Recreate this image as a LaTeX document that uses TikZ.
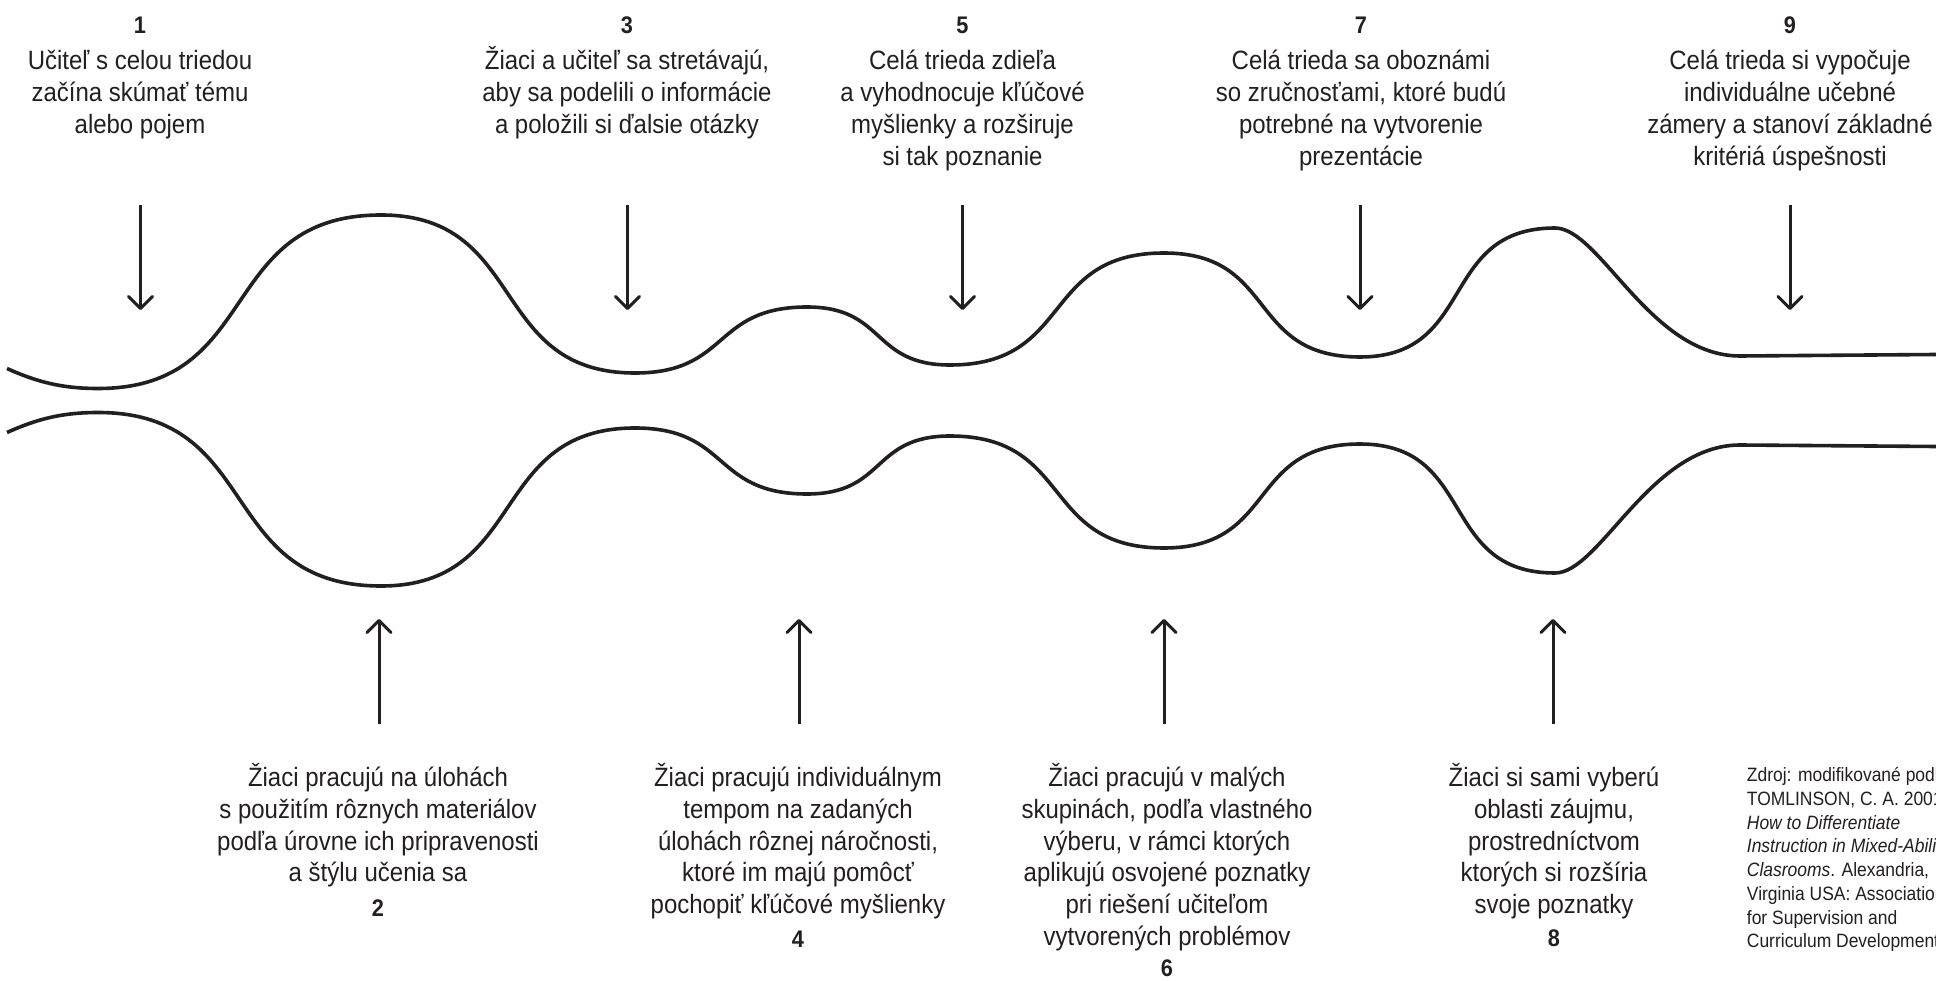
\documentclass[tikz,border=0pt]{standalone}
\usepackage{fontspec}
\setmainfont{Liberation Sans}[FakeStretch=0.905]
\usetikzlibrary{arrows.meta}
\definecolor{ink}{RGB}{35,31,32}
\newcommand\wavepath{(7,368.5) .. controls (37,382) and (62,388.5) .. (98,388.5)
 .. controls (263,388.5) and (216,215) .. (381,215)
 .. controls (528,215) and (488,373) .. (635,373)
 .. controls (730,373) and (712,307) .. (807,307)
 .. controls (886,307) and (871,365) .. (950,365)
 .. controls (1074,365) and (1040,253) .. (1164,253)
 .. controls (1278,253) and (1246,357) .. (1360,357)
 .. controls (1477,357) and (1438,228) .. (1555,228)
 .. controls (1600,228) and (1650,356) .. (1740,356)
 -- (1936,354.5)}
\begin{document}
\begin{tikzpicture}[x=1pt,y=-1pt,
  txt/.style={font=\fontsize{26.5}{31.7}\selectfont, align=center, anchor=base, inner sep=0pt, text=ink},
  num/.style={font=\fontsize{24}{28}\selectfont\bfseries, anchor=base, inner sep=0pt, text=ink},
  src/.style={font=\fontsize{19.3}{23.75}\selectfont, align=left, anchor=base west, inner sep=0pt, text=ink},
  wave/.style={draw=ink, line width=3.6pt},
  pointer/.style={draw=ink, line width=3pt, -{Straight Barb[length=12pt,width=24pt,round]}}]
\useasboundingbox[fill=white] (0,0) rectangle (1936,981);
\clip (0,0) rectangle (1936,981);

% waves
\draw[wave] \wavepath;
\begin{scope}[shift={(0,801)}, yscale=-1]
  \draw[wave] \wavepath;
\end{scope}

% top texts (anchor = baseline of last line)
\node[num] (n1) at (140,33.3) {1};
\node[txt] (t1) at (140,133.4) {Učiteľ s celou triedou\\začína skúmať tému\\alebo pojem};
\node[num] (n3) at (627,33.3) {3};
\node[txt] (t3) at (627,133.4) {Žiaci a učiteľ sa stretávajú,\\aby sa podelili o informácie\\a položili si ďalsie otázky};
\node[num] (n5) at (962.5,33.3) {5};
\node[txt] (t5) at (962.5,165.1) {Celá trieda zdieľa\\a vyhodnocuje kľúčové\\myšlienky a rozširuje\\si tak poznanie};
\node[num] (n7) at (1361,33.3) {7};
\node[txt] (t7) at (1361,165.1) {Celá trieda sa oboznámi\\so zručnosťami, ktoré budú\\potrebné na vytvorenie\\prezentácie};
\node[num] (n9) at (1790,33.3) {9};
\node[txt] (t9) at (1790,165.1) {Celá trieda si vypočuje\\individuálne učebné\\zámery a stanoví základné\\kritériá úspešnosti};

% bottom texts
\node[txt] (t2) at (378,881.8) {Žiaci pracujú na úlohách\\s použitím rôznych materiálov\\podľa úrovne ich pripravenosti\\a štýlu učenia sa};
\node[num] (n2) at (378,916.7) {2};
\node[txt] (t4) at (798,913.5) {Žiaci pracujú individuálnym\\tempom na zadaných\\úlohách rôznej náročnosti,\\ktoré im majú pomôcť\\pochopiť kľúčové myšlienky};
\node[num] (n4) at (798,947) {4};
\node[txt] (t6) at (1167,945.2) {Žiaci pracujú v malých\\skupinách, podľa vlastného\\výberu, v rámci ktorých\\aplikujú osvojené poznatky\\pri riešení učiteľom\\vytvorených problémov};
\node[num] (n6) at (1167,976) {6};
\node[txt] (t8) at (1554,913.5) {Žiaci si sami vyberú\\oblasti záujmu,\\prostredníctvom\\ktorých si rozšíria\\svoje poznatky};
\node[num] (n8) at (1554,946) {8};

% source (anchor = first baseline via base west of last line)
\node[src] (src) at (1746.7,947.9) {Zdroj: modifikované podľa\\TOMLINSON, C. A. 2001.\\\textit{How to Differentiate}\\\textit{Instruction in Mixed-Ability}\\\textit{Clasrooms}. Alexandria,\\Virginia USA: Association\\for Supervision and\\Curriculum Development.};

% arrows
\foreach \i/\x in {1/140.5,3/627.5,5/962.5,7/1360,9/1790}{
  \coordinate (a\i s) at (\x,205);
  \coordinate (a\i e) at (\x,310);
  \draw[pointer] (a\i s) -- (a\i e);
}
\foreach \i/\x in {2/379,4/799,6/1164,8/1553}{
  \coordinate (a\i s) at (\x,724);
  \coordinate (a\i e) at (\x,619);
  \draw[pointer] (a\i s) -- (a\i e);
}
\end{tikzpicture}
\end{document}
